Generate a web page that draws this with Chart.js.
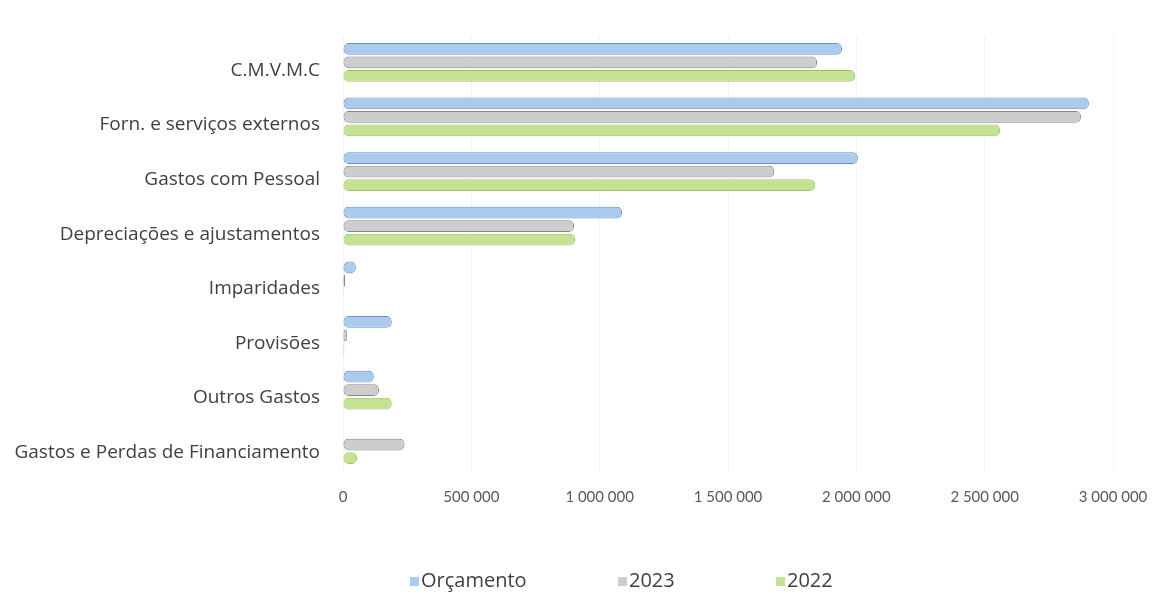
<!DOCTYPE html>
<html><head><meta charset="utf-8">
<script src="https://cdn.jsdelivr.net/npm/chart.js@4/dist/chart.umd.min.js"></script>
<style>html,body{margin:0;padding:0;background:#fff}#wrap{width:1168px;height:609px;position:relative}</style>
</head><body><div id="wrap"><canvas id="c" width="1168" height="609"></canvas></div>
<script>
const categories = ["C.M.V.M.C", "Forn. e serviços externos", "Gastos com Pessoal", "Depreciações e ajustamentos", "Imparidades", "Provisões", "Outros Gastos", "Gastos e Perdas de Financiamento"];
const seriesNames = ["Orçamento", "2023", "2022"];
const orcamento = [1944000, 2906000, 2006000, 1087000, 50000, 190000, 120000, 0];
const y2023 = [1847000, 2875000, 1680000, 900000, 8000, 15000, 140000, 240000];
const y2022 = [1995000, 2560000, 1840000, 904000, 3000, 5000, 190000, 55000];
const xTicks = [0, 500000, 1000000, 1500000, 2000000, 2500000, 3000000];

const fills = ["#aacbee", "#cdcdcd", "#c4e291"];
const borders = ["#6690c0", "#858585", "#9fc160"];

function fmt(v){ return String(v).replace(/\B(?=(\d{3})+(?!\d))/g, " "); }

const legendPlugin = {
  id: 'customLegend',
  afterDraw(chart){
    const ctx = chart.ctx;
    const xs = [410, 618, 776];
    const y = 581;
    ctx.save();
    ctx.font = '20px "Open Sans", sans-serif';
    ctx.textBaseline = 'middle';
    chart.data.datasets.forEach((ds, i) => {
      ctx.fillStyle = ds.backgroundColor;
      ctx.fillRect(xs[i], y - 4, 9, 9);
      ctx.fillStyle = '#404040';
      ctx.fillText(ds.label, xs[i] + 11, y);
    });
    ctx.restore();
  }
};

new Chart(document.getElementById('c'), {
  type: 'bar',
  data: {
    labels: categories,
    datasets: [orcamento, y2023, y2022].map((d, i) => ({
      label: seriesNames[i],
      data: d,
      backgroundColor: fills[i],
      borderColor: borders[i],
      borderWidth: 1,
      borderRadius: 5,
      borderSkipped: false,
      categoryPercentage: 0.74,
      barPercentage: 0.87
    }))
  },
  options: {
    indexAxis: 'y',
    responsive: false,
    animation: false,
    layout: { padding: { left: 10, right: 55, top: 35, bottom: 87 } },
    plugins: { legend: { display: false }, tooltip: { enabled: false } },
    scales: {
      x: {
        min: 0, max: 3000000,
        afterBuildTicks(scale){ scale.ticks = xTicks.map(v => ({ value: v })); },
        ticks: {
          callback: v => fmt(v),
          color: '#595959',
          font: { family: 'Lato, "Open Sans", sans-serif', size: 15 },
          padding: 16,
          maxRotation: 0
        },
        grid: { color: '#f4f4f4', drawTicks: false },
        border: { display: false }
      },
      y: {
        afterFit(scale){ scale.width = 333; },
        ticks: {
          color: '#404040',
          font: { family: '"Open Sans", sans-serif', size: 19 },
          padding: 15,
          labelOffset: 8
        },
        grid: { display: false },
        border: { display: false }
      }
    }
  },
  plugins: [legendPlugin]
});
</script></body></html>
